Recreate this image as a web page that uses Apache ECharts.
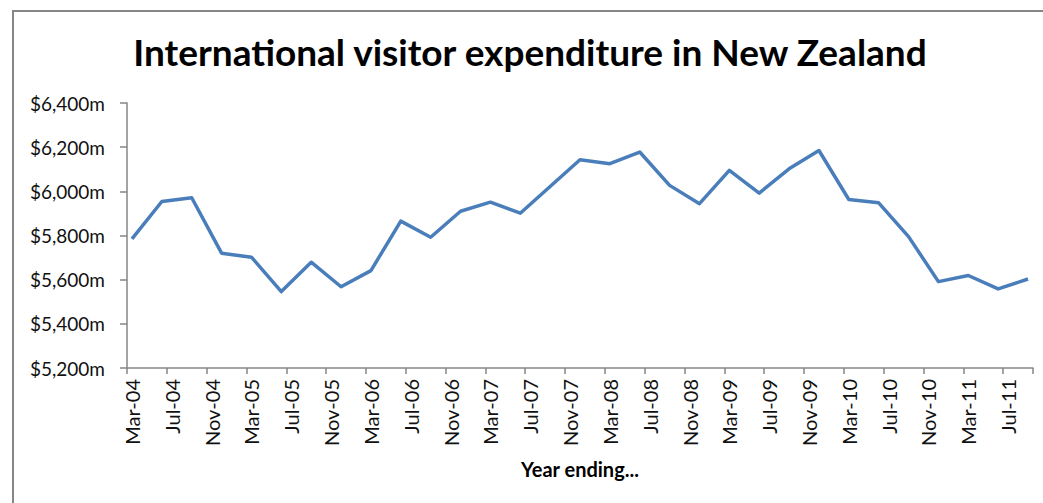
<!DOCTYPE html>
<html>
<head>
<meta charset="utf-8">
<script src="https://cdn.jsdelivr.net/npm/echarts@6/dist/echarts.min.js"></script>
<style>
  html, body { margin: 0; padding: 0; background: #fff; }
  #chart { width: 1043px; height: 503px; }
</style>
</head>
<body>
<div id="chart"></div>
<script>
// Quarter-end dates (year ending...) and expenditure in $ millions
const quarters = [
  'Mar-04','Jun-04','Sep-04','Dec-04',
  'Mar-05','Jun-05','Sep-05','Dec-05',
  'Mar-06','Jun-06','Sep-06','Dec-06',
  'Mar-07','Jun-07','Sep-07','Dec-07',
  'Mar-08','Jun-08','Sep-08','Dec-08',
  'Mar-09','Jun-09','Sep-09','Dec-09',
  'Mar-10','Jun-10','Sep-10','Dec-10',
  'Mar-11','Jun-11','Sep-11'
];
const expenditure = [
  5785, 5954, 5971, 5720,
  5702, 5546, 5679, 5568,
  5641, 5865, 5792, 5910,
  5951, 5901, 6022, 6143,
  6125, 6178, 6027, 5944,
  6095, 5992, 6102, 6185,
  5963, 5948, 5795, 5591,
  5619, 5558, 5603
];
const monthNames = ['Jan','Feb','Mar','Apr','May','Jun','Jul','Aug','Sep','Oct','Nov','Dec'];
const firstMonth = 'Mar-04';
const lastMonth = 'Sep-11';
const yTicks = [5200, 5400, 5600, 5800, 6000, 6200, 6400];
const titleText = 'International visitor expenditure in New Zealand';
const xAxisTitle = 'Year ending...';

// Build the monthly date axis (Excel date axis, base unit = month)
function parseLabel(s) {
  const [m, y] = s.split('-');
  return { m: monthNames.indexOf(m), y: 2000 + parseInt(y, 10) };
}
const months = [];
{
  let cur = parseLabel(firstMonth);
  const end = parseLabel(lastMonth);
  while (cur.y < end.y || (cur.y === end.y && cur.m <= end.m)) {
    months.push(monthNames[cur.m] + '-' + String(cur.y % 100).padStart(2, '0'));
    cur = { m: (cur.m + 1) % 12, y: cur.y + (cur.m === 11 ? 1 : 0) };
  }
}
const seriesData = months.map(function (mo) {
  const i = quarters.indexOf(mo);
  return i >= 0 ? expenditure[i] : null;
});

const chart = echarts.init(document.getElementById('chart'), null, { renderer: 'svg' });
const axisColor = '#868686';
const textColor = '#111111';

chart.setOption({
  backgroundColor: '#ffffff',
  animation: false,
  title: {
    text: titleText,
    left: 525,
    top: 28,
    textAlign: 'center',
    textStyle: { fontFamily: 'Lato', fontWeight: 'bold', fontSize: 37, color: '#000' }
  },
  graphic: [{
    type: 'rect',
    shape: { x: 13, y: 11, width: 1200, height: 700 },
    style: { fill: 'none', stroke: axisColor, lineWidth: 2 },
    silent: true
  }],
  grid: { left: 127, right: 10, top: 103, bottom: 135, containLabel: false },
  xAxis: {
    type: 'category',
    data: months,
    boundaryGap: true,
    name: xAxisTitle,
    nameLocation: 'middle',
    nameGap: 91,
    nameTextStyle: { fontFamily: 'Lato', fontWeight: 'bold', fontSize: 20, color: '#000' },
    axisLine: { show: true, lineStyle: { color: axisColor, width: 1.5 } },
    axisTick: { show: true, interval: 3, length: 6, lineStyle: { color: axisColor, width: 1.5 } },
    axisLabel: {
      interval: 3, rotate: 90, margin: 11,
      fontFamily: 'Lato', fontSize: 20, color: textColor
    },
    splitLine: { show: false }
  },
  yAxis: {
    type: 'value',
    min: yTicks[0],
    max: yTicks[yTicks.length - 1],
    interval: 200,
    axisLine: { show: true, lineStyle: { color: axisColor, width: 1.5 } },
    axisTick: { show: true, length: 7, lineStyle: { color: axisColor, width: 1.5 } },
    axisLabel: {
      margin: 22,
      fontFamily: 'Lato', fontSize: 19, color: textColor,
      formatter: function (v) { return '$' + v.toLocaleString('en-US') + 'm'; }
    },
    splitLine: { show: false }
  },
  series: [{
    type: 'line',
    data: seriesData,
    connectNulls: true,
    showSymbol: false,
    symbol: 'none',
    lineStyle: { color: '#4A7EBB', width: 3.5, join: 'round' }
  }]
});
</script>
</body>
</html>
